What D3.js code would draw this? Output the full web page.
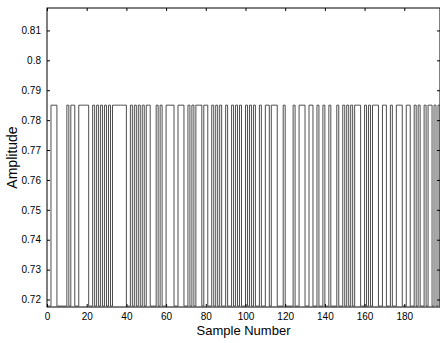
<!DOCTYPE html>
<html>
<head>
<meta charset="utf-8">
<script src="https://cdn.jsdelivr.net/npm/d3@7"></script>
<style>
  html, body { margin: 0; padding: 0; background: #fff; }
  svg { display: block; font-family: "Liberation Sans", Arial, sans-serif; }
</style>
</head>
<body>
<figure id="graph" style="margin:0"></figure>
<script>
// signal levels (amplitude)
const highLevel = 0.785;
const lowLevel = 0.7178;
const sampleCount = 199;

// sample ranges [start, end) where the signal sits at the high level
const highRuns = [
  [2, 5], [10, 11], [12, 14], [16, 21], [23, 24], [25, 26], [27, 28], [29, 30], [31, 32],
  [33, 40], [42, 43], [44, 45], [46, 47], [48, 49], [50, 52], [55, 56], [57, 58], [60, 64],
  [66, 69], [71, 72], [73, 74], [75, 78], [79, 81], [83, 84], [85, 86], [87, 88], [90, 91],
  [93, 94], [95, 96], [97, 98], [100, 101], [102, 103], [104, 105], [107, 108], [110, 112],
  [113, 116], [119, 120], [124, 125], [127, 130], [132, 134], [136, 137], [139, 140],
  [142, 143], [146, 147], [149, 150], [151, 152], [153, 154], [155, 158], [160, 161],
  [162, 163], [164, 167], [169, 171], [173, 174], [176, 179], [181, 183], [185, 186],
  [187, 188], [190, 191], [192, 194], [195, 196], [197, 198]
];

const xTicks = [0, 20, 40, 60, 80, 100, 120, 140, 160, 180];
const yTicks = [0.72, 0.73, 0.74, 0.75, 0.76, 0.77, 0.78, 0.79, 0.8, 0.81];

const width = 440;
const height = 343;
const plot = { left: 47, right: 440, top: 8, bottom: 307 };

// per-sample amplitude from the runs
const amplitude = [];
for (let i = 0; i < sampleCount; i++) {
  const on = highRuns.some(r => i >= r[0] && i < r[1]);
  amplitude.push([i, on ? highLevel : lowLevel]);
}
amplitude.push([sampleCount - 1, amplitude[sampleCount - 1][1]]);

const svg = d3.select('figure#graph')
  .append('svg')
  .attr('width', width)
  .attr('height', height);

const xScale = d3.scaleLinear()
  .domain([0, 198])
  .range([plot.left, plot.right]);

const yScale = d3.scaleLinear()
  .domain([0.7175, 0.8175])
  .range([plot.bottom, plot.top]);

// box
svg.append('rect')
  .attr('x', plot.left)
  .attr('y', plot.top)
  .attr('width', plot.right - plot.left)
  .attr('height', plot.bottom - plot.top)
  .attr('fill', 'none')
  .attr('stroke', '#000')
  .attr('stroke-width', 1);

// signal
svg.append('path')
  .datum(amplitude)
  .attr('fill', 'none')
  .attr('stroke', '#3a3a3a')
  .attr('stroke-width', 0.9)
  .attr('d', d3.line()
    .x(d => xScale(d[0]))
    .y(d => yScale(d[1]))
    .curve(d3.curveStepAfter)
  );

// axes, ticks pointing inward
const fmt = v => String(+v.toFixed(2));

svg.append('g')
  .attr('transform', `translate(0, ${plot.bottom})`)
  .call(d3.axisBottom(xScale).tickValues(xTicks).tickSizeInner(-3).tickSizeOuter(0).tickPadding(6))
  .call(g => g.select('.domain').remove())
  .call(g => g.selectAll('text').attr('font-size', 10).attr('font-family', 'Liberation Sans, Arial, sans-serif').attr('fill', '#000'));

svg.append('g')
  .attr('transform', `translate(0, ${plot.top})`)
  .call(d3.axisTop(xScale).tickValues(xTicks).tickSizeInner(-3).tickSizeOuter(0).tickFormat(''))
  .call(g => g.select('.domain').remove());

svg.append('g')
  .attr('transform', `translate(${plot.left}, 0)`)
  .call(d3.axisLeft(yScale).tickValues(yTicks).tickFormat(fmt).tickSizeInner(-3).tickSizeOuter(0).tickPadding(6))
  .call(g => g.select('.domain').remove())
  .call(g => g.selectAll('text').attr('font-size', 10).attr('font-family', 'Liberation Sans, Arial, sans-serif').attr('fill', '#000'));

svg.append('g')
  .attr('transform', `translate(${plot.right}, 0)`)
  .call(d3.axisRight(yScale).tickValues(yTicks).tickSizeInner(-3).tickSizeOuter(0).tickFormat(''))
  .call(g => g.select('.domain').remove());

// axis titles
svg.append('text')
  .attr('x', (plot.left + plot.right) / 2)
  .attr('y', 335)
  .attr('text-anchor', 'middle')
  .attr('font-size', 13)
  .text('Sample Number');

svg.append('text')
  .attr('transform', `translate(17, ${(plot.top + plot.bottom) / 2}) rotate(-90)`)
  .attr('text-anchor', 'middle')
  .attr('font-size', 14)
  .text('Amplitude');
</script>
</body>
</html>
